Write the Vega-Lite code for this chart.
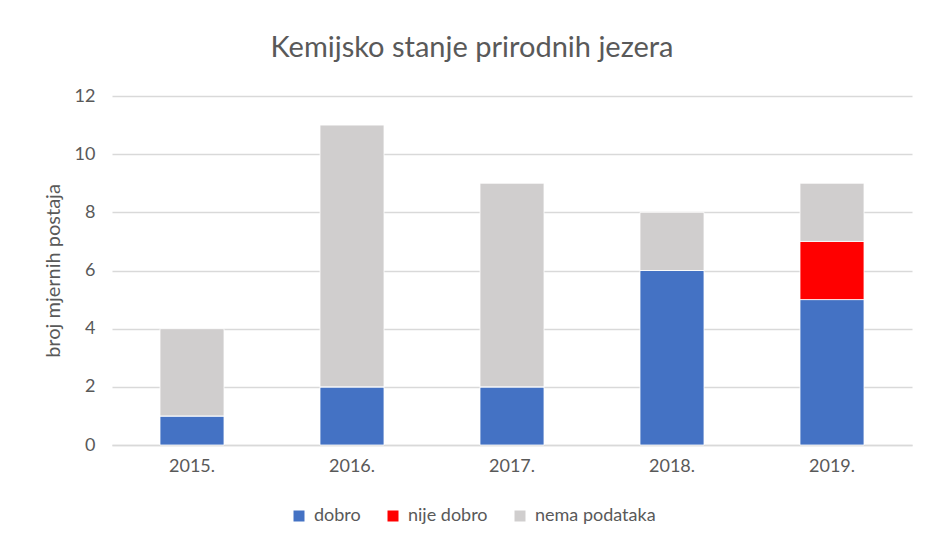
{
  "$schema": "https://vega.github.io/schema/vega-lite/v6.json",
  "width": 800,
  "height": 349,
  "autosize": {"type": "none"},
  "padding": {"left": 112, "top": 96, "right": 14, "bottom": 99},
  "background": "white",
  "title": {
    "text": "Kemijsko stanje prirodnih jezera",
    "font": "Lato",
    "fontSize": 29,
    "fontWeight": "normal",
    "color": "#595959",
    "anchor": "middle",
    "frame": "group",
    "baseline": "alphabetic",
    "offset": 36,
    "dx": -40,
    "dy": 35
  },
  "data": {
    "values": [
      {"godina": "2015.", "stanje": "dobro", "broj": 1, "red": 1},
      {"godina": "2015.", "stanje": "nije dobro", "broj": 0, "red": 2},
      {"godina": "2015.", "stanje": "nema podataka", "broj": 3, "red": 3},
      {"godina": "2016.", "stanje": "dobro", "broj": 2, "red": 1},
      {"godina": "2016.", "stanje": "nije dobro", "broj": 0, "red": 2},
      {"godina": "2016.", "stanje": "nema podataka", "broj": 9, "red": 3},
      {"godina": "2017.", "stanje": "dobro", "broj": 2, "red": 1},
      {"godina": "2017.", "stanje": "nije dobro", "broj": 0, "red": 2},
      {"godina": "2017.", "stanje": "nema podataka", "broj": 7, "red": 3},
      {"godina": "2018.", "stanje": "dobro", "broj": 6, "red": 1},
      {"godina": "2018.", "stanje": "nije dobro", "broj": 0, "red": 2},
      {"godina": "2018.", "stanje": "nema podataka", "broj": 2, "red": 3},
      {"godina": "2019.", "stanje": "dobro", "broj": 5, "red": 1},
      {"godina": "2019.", "stanje": "nije dobro", "broj": 2, "red": 2},
      {"godina": "2019.", "stanje": "nema podataka", "broj": 2, "red": 3}
    ]
  },
  "mark": {"type": "bar", "stroke": "white", "strokeWidth": 0.8},
  "encoding": {
    "x": {
      "field": "godina",
      "type": "nominal",
      "scale": {"paddingInner": 0.6, "paddingOuter": 0.3},
      "axis": {
        "title": null,
        "labelAngle": 0,
        "labelFont": "Lato",
        "labelFontSize": 18,
        "labelColor": "#595959",
        "labelPadding": 12,
        "ticks": false,
        "domainColor": "#D9D9D9",
        "domainWidth": 1.3
      }
    },
    "y": {
      "field": "broj",
      "type": "quantitative",
      "stack": "zero",
      "scale": {"domain": [0, 12], "nice": false},
      "axis": {
        "values": [0, 2, 4, 6, 8, 10, 12],
        "title": "broj mjernih postaja",
        "titleFont": "Lato",
        "titleFontSize": 20,
        "titleFontWeight": "normal",
        "titleColor": "#595959",
        "titleX": -49,
        "labelFont": "Lato",
        "labelFontSize": 18,
        "labelColor": "#595959",
        "labelPadding": 17,
        "ticks": false,
        "domain": false,
        "gridColor": "#D9D9D9",
        "gridWidth": 1.3
      }
    },
    "color": {
      "field": "stanje",
      "type": "nominal",
      "scale": {
        "domain": ["dobro", "nije dobro", "nema podataka"],
        "range": ["#4472C4", "#FF0000", "#D0CECE"]
      },
      "legend": {
        "title": null,
        "orient": "none",
        "direction": "horizontal",
        "legendX": 178,
        "legendY": 411,
        "symbolType": "square",
        "symbolSize": 121,
        "symbolStrokeWidth": 0,
        "labelFont": "Lato",
        "labelFontSize": 18,
        "labelColor": "#595959",
        "labelOffset": 6,
        "columnPadding": 23
      }
    },
    "order": {"field": "red", "type": "quantitative"}
  },
  "config": {"view": {"stroke": null}}
}
